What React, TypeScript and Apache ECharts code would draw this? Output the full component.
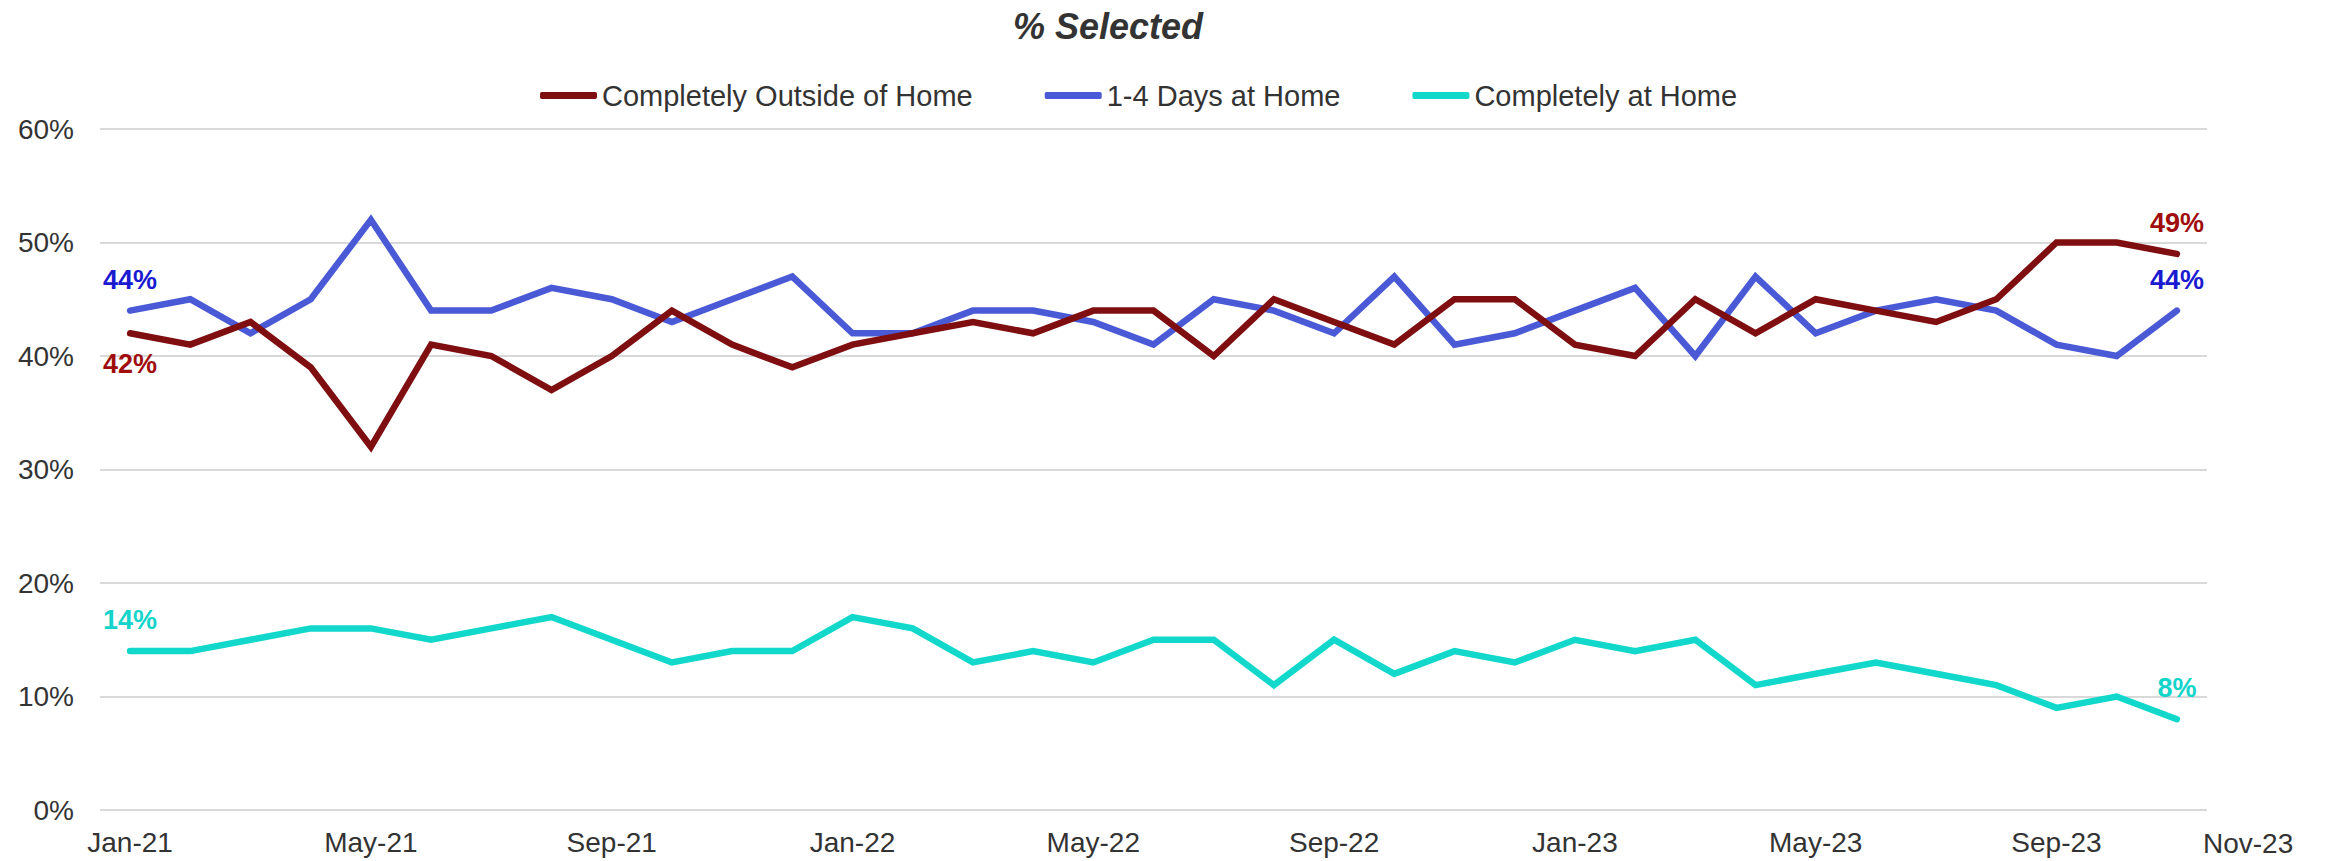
import React, { useEffect, useRef } from "react";
import * as echarts from "echarts";

const months = [
  "Jan-21", "Feb-21", "Mar-21", "Apr-21", "May-21", "Jun-21", "Jul-21", "Aug-21", "Sep-21", "Oct-21", "Nov-21", "Dec-21",
  "Jan-22", "Feb-22", "Mar-22", "Apr-22", "May-22", "Jun-22", "Jul-22", "Aug-22", "Sep-22", "Oct-22", "Nov-22", "Dec-22",
  "Jan-23", "Feb-23", "Mar-23", "Apr-23", "May-23", "Jun-23", "Jul-23", "Aug-23", "Sep-23", "Oct-23", "Nov-23",
];

const outsideHome = [42, 41, 43, 39, 32, 41, 40, 37, 40, 44, 41, 39, 41, 42, 43, 42, 44, 44, 40, 45, 43, 41, 45, 45, 41, 40, 45, 42, 45, 44, 43, 45, 50, 50, 49];
const daysAtHome = [44, 45, 42, 45, 52, 44, 44, 46, 45, 43, 45, 47, 42, 42, 44, 44, 43, 41, 45, 44, 42, 47, 41, 42, 44, 46, 40, 47, 42, 44, 45, 44, 41, 40, 44];
const atHome = [14, 14, 15, 16, 16, 15, 16, 17, 15, 13, 14, 14, 17, 16, 13, 14, 13, 15, 15, 11, 15, 12, 14, 13, 15, 14, 15, 11, 12, 13, 12, 11, 9, 10, 8];

const seriesNames = ["Completely Outside of Home", "1-4 Days at Home", "Completely at Home"];
const lineColors = ["#7F0E10", "#4A5AD6", "#12D8CC"];
const labelColors = ["#A00D0D", "#1A1AD0", "#12D4CA"];
const extraAxisLabel = "Nov-23";

const FONT = "'Liberation Sans', Arial, sans-serif";

export default function App() {
  const ref = useRef<HTMLDivElement>(null);

  useEffect(() => {
    if (!ref.current) return;
    const chart = echarts.init(ref.current, undefined, { renderer: "svg" });
    const last = months.length - 1;

    const mkSeries = (name: string, data: number[], idx: number, firstPos: string, lastPos: string) => ({
      name,
      type: "line",
      data: data.map((v, i) => {
        if (i === 0 || i === last) {
          return {
            value: v,
            symbol: "circle",
            symbolSize: 1,
            label: {
              show: true,
              position: i === 0 ? firstPos : lastPos,
              distance: 17,
              formatter: "{c}%",
              color: labelColors[idx],
              fontWeight: "bold",
              fontSize: 27,
              fontFamily: FONT,
            },
          };
        }
        return { value: v, symbol: "none" };
      }),
      symbol: "circle",
      symbolSize: 1,
      showSymbol: true,
      lineStyle: { color: lineColors[idx], width: 6.5, cap: "round", join: "miter" },
      itemStyle: { color: lineColors[idx] },
      z: 3 - idx,
    });

    chart.setOption({
      animation: false,
      backgroundColor: "#ffffff",
      textStyle: { fontFamily: FONT },
      title: {
        text: "% Selected",
        left: 1008,
        top: 3,
        textStyle: {
          fontFamily: FONT,
          fontSize: 36,
          fontWeight: "bold",
          fontStyle: "italic",
          color: "#333333",
        },
      },
      legend: {
        left: 535,
        top: 76,
        itemWidth: 57,
        itemHeight: 7,
        itemGap: 72,
        icon: "roundRect",
        textStyle: { fontFamily: FONT, fontSize: 29, color: "#333333" },
        data: seriesNames,
      },
      grid: { left: 100, right: 124, top: 129, bottom: 51, containLabel: false },
      xAxis: {
        type: "category",
        data: months,
        boundaryGap: true,
        axisLine: { show: false },
        axisTick: { show: false },
        axisLabel: {
          interval: 3,
          margin: 18,
          fontSize: 28,
          color: "#333333",
          fontFamily: FONT,
        },
        splitLine: { show: false },
      },
      yAxis: {
        type: "value",
        min: 0,
        max: 60,
        interval: 10,
        axisLine: { show: false },
        axisTick: { show: false },
        axisLabel: {
          formatter: "{value}%",
          margin: 26,
          fontSize: 28,
          color: "#333333",
          fontFamily: FONT,
        },
        splitLine: { lineStyle: { color: "#D9D9D9", width: 2 } },
      },
      graphic: [
        {
          type: "text",
          left: 2203,
          top: 829,
          style: { text: extraAxisLabel, fontSize: 28, fill: "#333333", fontFamily: FONT },
        },
      ],
      series: [
        mkSeries(seriesNames[0], outsideHome, 0, "bottom", "top"),
        mkSeries(seriesNames[1], daysAtHome, 1, "top", "top"),
        mkSeries(seriesNames[2], atHome, 2, "top", "top"),
      ],
    });

    return () => chart.dispose();
  }, []);

  return (
    <div
      ref={ref}
      style={{ position: "fixed", left: 0, top: 0, width: 2331, height: 861, background: "#fff" }}
    />
  );
}
